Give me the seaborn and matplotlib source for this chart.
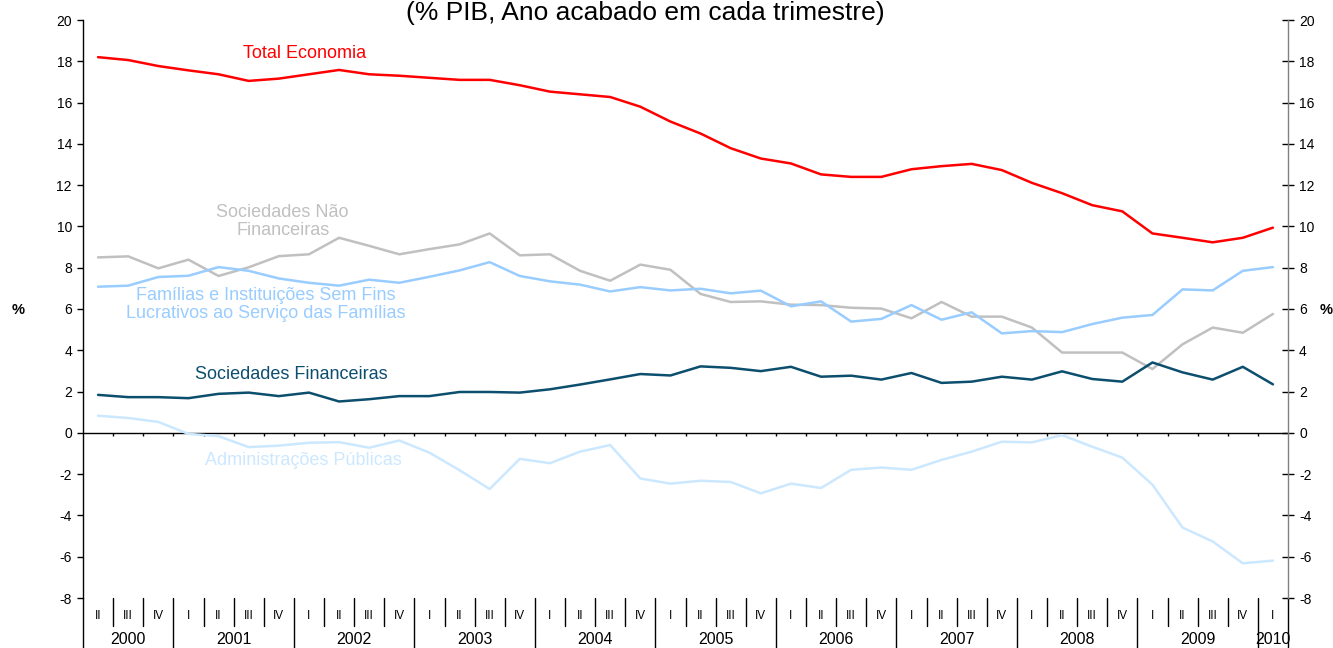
import matplotlib
matplotlib.use("Agg")
import matplotlib.pyplot as plt
import seaborn as sns
import pandas as pd
import numpy as np

# ---------------- data ----------------
years = ["2000", "2001", "2002", "2003", "2004", "2005", "2006", "2007", "2008", "2009", "2010"]
quarters_per_year = [["II", "III", "IV"]] + [["I", "II", "III", "IV"]] * 9 + [["I"]]

total_economia = [18.2, 18.06, 17.77, 17.56, 17.37, 17.05, 17.16, 17.37, 17.58, 17.37,
                  17.3, 17.2, 17.1, 17.1, 16.84, 16.53, 16.4, 16.27, 15.8, 15.08,
                  14.5, 13.79, 13.29, 13.05, 12.52, 12.4, 12.4, 12.77, 12.92, 13.03,
                  12.73, 12.11, 11.61, 11.03, 10.73, 9.66, 9.45, 9.23, 9.45, 9.94]
soc_nao_fin = [8.5, 8.55, 7.97, 8.39, 7.6, 8.02, 8.56, 8.65, 9.45, 9.06,
               8.65, 8.9, 9.13, 9.66, 8.6, 8.65, 7.85, 7.37, 8.15, 7.9,
               6.73, 6.34, 6.37, 6.21, 6.19, 6.06, 6.02, 5.55, 6.34, 5.63,
               5.63, 5.1, 3.89, 3.89, 3.89, 3.09, 4.29, 5.1, 4.85, 5.76]
familias = [7.08, 7.13, 7.55, 7.61, 8.03, 7.85, 7.48, 7.27, 7.13, 7.42,
            7.27, 7.56, 7.87, 8.27, 7.6, 7.34, 7.18, 6.85, 7.06, 6.9,
            6.98, 6.76, 6.89, 6.13, 6.37, 5.39, 5.52, 6.19, 5.48, 5.84,
            4.82, 4.93, 4.88, 5.27, 5.58, 5.71, 6.95, 6.9, 7.85, 8.03]
soc_fin = [1.84, 1.73, 1.73, 1.68, 1.89, 1.95, 1.78, 1.95, 1.52, 1.63,
           1.78, 1.78, 1.98, 1.98, 1.95, 2.11, 2.34, 2.59, 2.85, 2.78,
           3.22, 3.15, 2.99, 3.2, 2.72, 2.77, 2.58, 2.9, 2.42, 2.48,
           2.72, 2.58, 2.98, 2.61, 2.48, 3.41, 2.93, 2.58, 3.2, 2.35]
adm_publicas = [0.83, 0.72, 0.53, -0.05, -0.16, -0.69, -0.62, -0.48, -0.45, -0.72,
                -0.37, -0.96, -1.81, -2.72, -1.26, -1.47, -0.91, -0.59, -2.21, -2.46,
                -2.32, -2.38, -2.93, -2.46, -2.67, -1.79, -1.68, -1.79, -1.31, -0.91,
                -0.43, -0.46, -0.11, -0.67, -1.2, -2.51, -4.59, -5.26, -6.32, -6.19]

series_names = ["Total Economia", "Sociedades Não\nFinanceiras",
                "Famílias e Instituições Sem Fins\nLucrativos ao Serviço das Famílias",
                "Sociedades Financeiras", "Administrações Públicas"]
series_values = [total_economia, soc_nao_fin, familias, soc_fin, adm_publicas]
series_colors = ["#FF0000", "#C0C0C0", "#99CCFF", "#0C4E6E", "#CCE8FF"]
title = "(% PIB, Ano acabado em cada trimestre)"

# ---------------- build table ----------------
quarter_labels = [q for qs in quarters_per_year for q in qs]
n = len(quarter_labels)
idx = np.arange(n)

rows = []
for name, vals in zip(series_names, series_values):
    for i, v in enumerate(vals):
        rows.append({"i": i, "valor": v, "serie": name})
df = pd.DataFrame(rows)

# ---------------- plot ----------------
sns.set_theme(style="white")
plt.rcParams["font.family"] = ["Liberation Sans", "DejaVu Sans"]
plt.rcParams["axes.unicode_minus"] = False
plt.rcParams["text.color"] = "#000000"

fig = plt.figure(figsize=(13.33, 6.48), dpi=100)
ax = fig.add_axes([83 / 1333, 50 / 648, (1288 - 83) / 1333, 578 / 648])

sns.lineplot(data=df, x="i", y="valor", hue="serie", hue_order=series_names,
             palette=series_colors, linewidth=1.8, legend=False, ax=ax)

ax.set_xlim(-0.5, n - 0.5)
ax.set_ylim(-8, 20)
ax.set_yticks(np.arange(-8, 21, 2))
ax.set_xticks([])
ax.set_xlabel("")
ax.set_ylabel("")

for s in ["top", "bottom"]:
    ax.spines[s].set_visible(False)
ax.spines["left"].set_color("#000000")
ax.spines["left"].set_linewidth(1.0)
ax.spines["right"].set_color("#808080")
ax.spines["right"].set_linewidth(1.0)

ax.tick_params(axis="y", left=True, right=True, labelleft=True, labelright=True,
               labelsize=10, colors="#000000", direction="out", length=4, width=1, pad=4)
for t in ax.yaxis.get_major_ticks():
    t.tick2line.set_marker("_")
    t.tick2line.set_markersize(8)
ax.grid(False)

# zero line with category-boundary ticks
ax.axhline(0, color="#000000", linewidth=1.0, zorder=1)
bounds = idx[1:] - 0.5
ax.vlines(bounds, -0.15, 0, color="#000000", linewidth=1.0, zorder=1)

# category axis below the plot
trans = ax.get_xaxis_transform()
year_bounds = [-0.5]
pos = -0.5
for qs in quarters_per_year:
    pos += len(qs)
    year_bounds.append(pos)
for b in bounds:
    if b not in year_bounds:
        ax.plot([b, b], [0, -0.0484], transform=trans, color="#000000",
                linewidth=1.0, clip_on=False)
for b in year_bounds:
    ax.plot([b, b], [0, -0.0865], transform=trans, color="#000000",
            linewidth=1.0, clip_on=False)
for i, q in enumerate(quarter_labels):
    ax.text(i, -0.031, q, transform=trans, ha="center", va="center",
            fontsize=8.5, color="#000000")
for k, y in enumerate(years):
    center = (year_bounds[k] + year_bounds[k + 1]) / 2
    ax.text(center, -0.0845, y, transform=trans, ha="center", va="bottom",
            fontsize=11.5, color="#000000")

# series labels
label_pos = [(6.84, 18.4), (6.13, 10.24), (5.55, 6.23), (6.4, 2.85), (6.81, -1.35)]
for name, col, (lx, ly) in zip(series_names, series_colors, label_pos):
    ax.text(lx, ly, name, color=col, fontsize=13, ha="center", va="center",
            linespacing=1.1)

# % labels
fig.text(18 / 1333, 1 - 310 / 648, "%", ha="center", va="center",
         fontsize=10.5, fontweight="bold", color="#000000")
fig.text(1326 / 1333, 1 - 310 / 648, "%", ha="center", va="center",
         fontsize=10.5, fontweight="bold", color="#000000")

fig.text(645 / 1333, 1 - 1 / 648, title, ha="center", va="top", fontsize=19,
         color="#000000")

fig.savefig("out.png", dpi=100)
